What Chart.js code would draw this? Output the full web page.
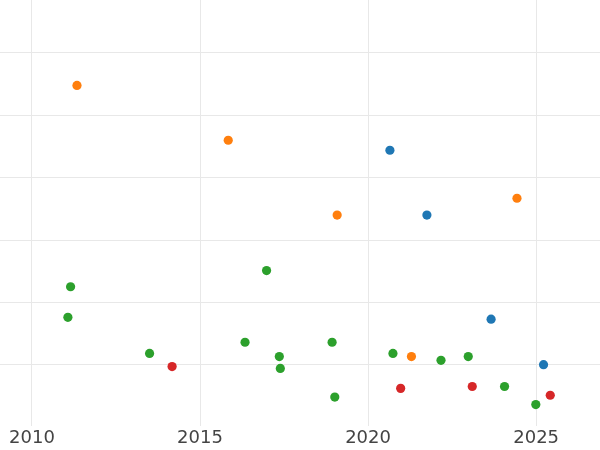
<!DOCTYPE html>
<html>
<head>
<meta charset="utf-8">
<script src="https://cdn.jsdelivr.net/npm/chart.js@4.4.0/dist/chart.umd.min.js"></script>
<style>
  html, body { margin: 0; padding: 0; background: #fff; }
  #wrap { width: 600px; height: 450px; }
</style>
</head>
<body>
<div id="wrap"><canvas id="chart"></canvas></div>
<script>
// points: [year, value]
const blueYears = [2020.65, 2021.75, 2023.66, 2025.22]
const blueVals = [3.44, 2.40, 0.73, 0.00]

const orangeYears = [2011.34, 2015.84, 2019.08, 2024.43, 2021.29]
const orangeVals = [4.48, 3.60, 2.40, 2.67, 0.13]

const greenYears = [2011.15, 2011.07, 2013.50, 2016.34, 2016.98, 2017.36, 2017.39, 2018.93, 2019.01, 2020.74, 2022.17, 2022.98, 2024.06, 2024.99]
const greenVals = [1.25, 0.76, 0.18, 0.36, 1.51, 0.13, -0.06, 0.36, -0.52, 0.18, 0.07, 0.13, -0.35, -0.64]

const redYears = [2014.17, 2020.97, 2023.10, 2025.42]
const redVals = [-0.03, -0.38, -0.35, -0.49]

const toPoints = (xs, ys) => xs.map((x, i) => ({ x, y: ys[i] }))

function series(label, xs, ys, color) {
  return {
    label,
    data: toPoints(xs, ys),
    backgroundColor: color,
    borderColor: color,
    borderWidth: 0,
    pointRadius: 4.6,
    pointHoverRadius: 4.6
  }
}

new Chart(document.getElementById('chart'), {
  type: 'scatter',
  data: {
    datasets: [
      series('blue', blueYears, blueVals, '#1f77b4'),
      series('orange', orangeYears, orangeVals, '#ff7f0e'),
      series('green', greenYears, greenVals, '#2ca02c'),
      series('red', redYears, redVals, '#d62728')
    ]
  },
  options: {
    responsive: true,
    maintainAspectRatio: false,
    animation: false,
    layout: { padding: 0, autoPadding: false },
    plugins: {
      legend: { display: false },
      tooltip: { enabled: false }
    },
    scales: {
      x: {
        type: 'linear',
        min: 2009.05,
        max: 2026.9,
        border: { display: false },
        grid: { color: '#e8e8e8', lineWidth: 1, drawTicks: false },
        ticks: {
          stepSize: 5,
          includeBounds: false,
          padding: 1,
          color: '#444',
          font: { family: 'DejaVu Sans', size: 18 },
          callback: v => String(v)
        }
      },
      y: {
        min: -0.99,
        max: 5.85,
        border: { display: false },
        grid: { color: '#e8e8e8', lineWidth: 1, drawTicks: false },
        ticks: { display: false, stepSize: 1, includeBounds: false }
      }
    }
  }
})
</script>
</body>
</html>
